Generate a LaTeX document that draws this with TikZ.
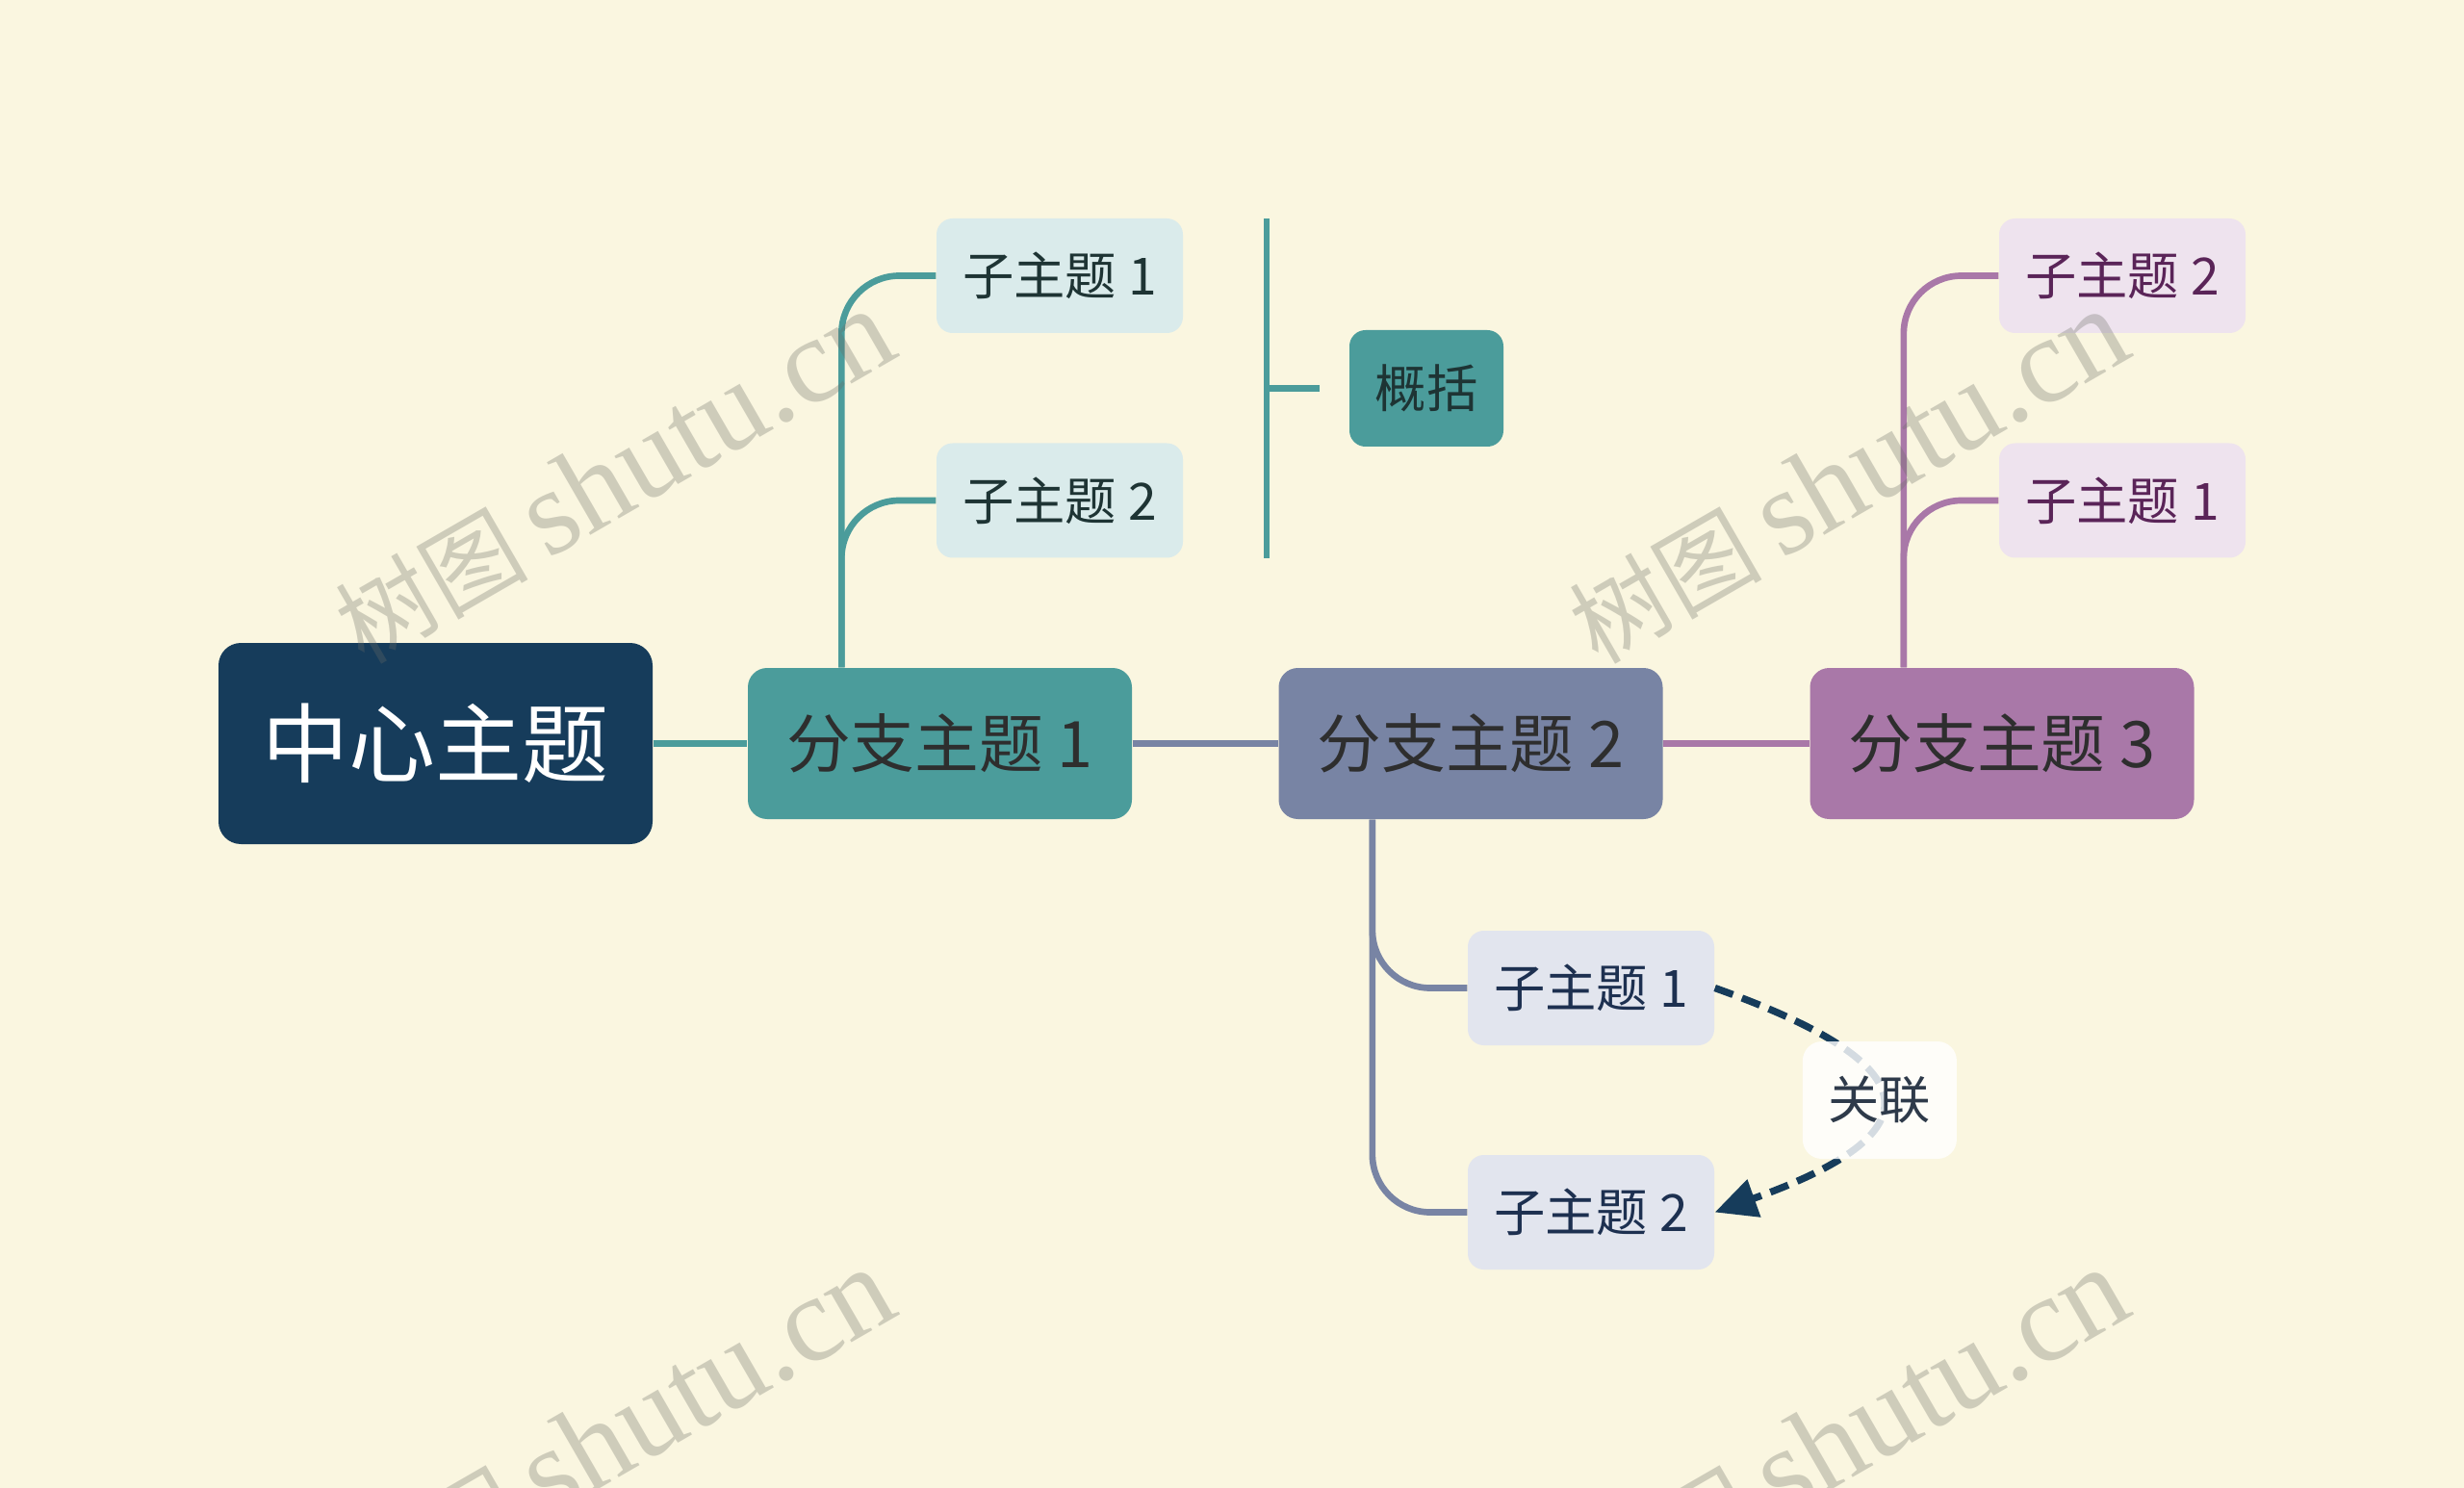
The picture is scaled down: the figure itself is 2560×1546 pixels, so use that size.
\documentclass[tikz,border=0pt]{standalone}
\usepackage{fontspec}
\setmainfont{Noto Sans CJK SC}
\newfontfamily\wmserif{Liberation Serif}
\usetikzlibrary{arrows.meta}
\definecolor{bgcol}{HTML}{FAF6E0}
\definecolor{cnavy}{HTML}{163C5B}
\definecolor{cteal}{HTML}{4B9C9B}
\definecolor{cslate}{HTML}{7884A4}
\definecolor{cplum}{HTML}{A978A8}
\definecolor{tealsub}{HTML}{DAEBEB}
\definecolor{slatesub}{HTML}{E2E5EE}
\definecolor{plumsub}{HTML}{EEE3EE}
\definecolor{tealtxt}{HTML}{1E3434}
\definecolor{slatetxt}{HTML}{1D3050}
\definecolor{plumtxt}{HTML}{5A2458}
\definecolor{btext}{HTML}{2E2E2E}
\definecolor{wmcol}{HTML}{6B6D65}
\definecolor{reltxt}{HTML}{2E3A4A}
\newcommand{\wmtext}{{\fontsize{30}{30}\selectfont 树图}\hspace{6pt}{\wmserif\fontsize{38}{38}\selectfont shutu.cn}}
\tikzset{
  wmark/.style={text=wmcol, text opacity=0.3, inner sep=0pt, rotate=30, anchor=base west},
  centralbox/.style={rounded corners=7pt, fill=cnavy, text=white, minimum width=135.3pt, minimum height=62.7pt, font=\fontsize{27}{27}\selectfont, inner sep=0pt},
  branchbox/.style={rounded corners=6pt, minimum width=119.7pt, minimum height=47.1pt, font=\fontsize{20}{20}\selectfont, text=btext, inner sep=0pt},
  subbox/.style={rounded corners=5pt, minimum width=76.8pt, minimum height=35.7pt, font=\fontsize{16}{16}\selectfont, inner sep=0pt},
  sumbox/.style={rounded corners=5pt, fill=cteal, text=tealtxt, minimum width=48pt, minimum height=36.3pt, font=\fontsize{16}{16}\selectfont, inner sep=0pt},
  conn/.style={line width=2pt},
  branchconn/.style={line width=2pt, rounded corners=18pt},
  rel/.style={line width=2.2pt, cnavy, dash pattern=on 6pt off 3pt, -{Triangle[length=13pt,width=12pt]}},
  rellabel/.style={rounded corners=6pt, fill=white, fill opacity=0.82, text opacity=1, text=reltxt, minimum width=48pt, minimum height=36.6pt, font=\fontsize{16}{16}\selectfont, inner sep=0pt, solid},
}
\begin{document}
\begin{tikzpicture}[x=0.3pt,y=-0.3pt]
\useasboundingbox (0,0) rectangle (2560,1546);
\clip (0,0) rectangle (2560,1546);
\fill[bgcol] (0,0) rectangle (2560,1546);
% nodes
\node[centralbox] (c) at (452.5,772.5) {中心主题};
\node[branchbox, fill=cteal] (b1) at (976.5,772.5) {分支主题 1};
\node[branchbox, fill=cslate] (b2) at (1528,772.5) {分支主题 2};
\node[branchbox, fill=cplum] (b3) at (2080,772.5) {分支主题 3};
\node[subbox, fill=tealsub, text=tealtxt] (s11) at (1101,286.5) {子主题 1};
\node[subbox, fill=tealsub, text=tealtxt] (s12) at (1101,520) {子主题 2};
\node[subbox, fill=slatesub, text=slatetxt] (s21) at (1653,1026.5) {子主题 1};
\node[subbox, fill=slatesub, text=slatetxt] (s22) at (1653,1259.5) {子主题 2};
\node[subbox, fill=plumsub, text=plumtxt] (s32) at (2205,286.5) {子主题 2};
\node[subbox, fill=plumsub, text=plumtxt] (s31) at (2205,520) {子主题 1};
\node[sumbox] (sum) at (1482,403.5) {概括};
% anchor coordinates
\coordinate (b1s) at ([xshift=29.4pt]b1.north west);
\coordinate (b2s) at ([xshift=29.4pt]b2.south west);
\coordinate (b3s) at ([xshift=29.4pt]b3.north west);
\coordinate (brt) at (1316,227);
\coordinate (brb) at (1316,580);
\coordinate (brm) at (1316,403.5);
\coordinate (brtip) at (1371,403.5);
% connectors
\draw[conn, cteal] (c.east) -- (b1.west);
\draw[conn, cslate] (b1.east) -- (b2.west);
\draw[conn, cplum] (b2.east) -- (b3.west);
\draw[branchconn, cteal] (b1s) |- (s11.west);
\draw[branchconn, cteal] (b1s) |- (s12.west);
\draw[branchconn, cslate] (b2s) |- (s21.west);
\draw[branchconn, cslate] (b2s) |- (s22.west);
\draw[branchconn, cplum] (b3s) |- (s32.west);
\draw[branchconn, cplum] (b3s) |- (s31.west);
\draw[conn, cteal] (brt) -- (brb);
\draw[conn, cteal] (brm) -- (brtip);
% relation
\draw[rel] (s21.east) .. controls (2010,1108) and (2010,1178) .. (s22.east)
  node[pos=0.5, rellabel] (rl) {关联};
% watermarks (on top, translucent)
\node[wmark] (wm1) at (378,692) {\wmtext};
\node[wmark] (wm2) at (1660,692) {\wmtext};
\node[wmark] (wm3) at (378,1688) {\wmtext};
\node[wmark] (wm4) at (1660,1688) {\wmtext};
\end{tikzpicture}
\end{document}
